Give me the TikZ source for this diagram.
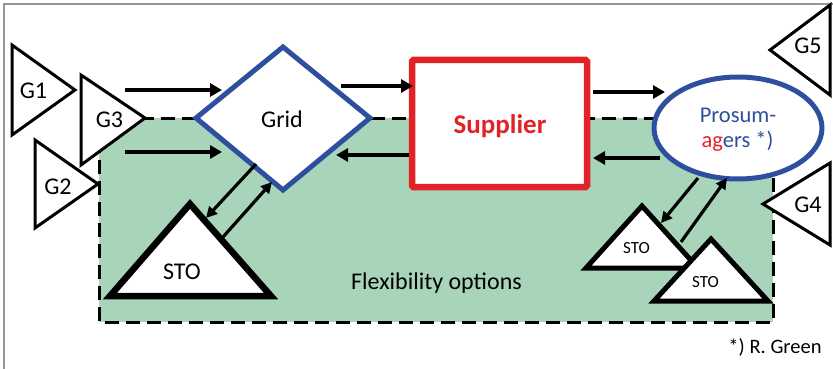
\documentclass[tikz,border=0pt]{standalone}
\usepackage{fontspec}
\setmainfont{Carlito}
\usetikzlibrary{arrows.meta}
\definecolor{gridblue}{RGB}{46,78,158}
\definecolor{supred}{RGB}{227,34,39}
\definecolor{flexgreen}{RGB}{168,213,186}
\definecolor{framegray}{RGB}{150,150,150}
\tikzset{
  gtri/.style={draw=black, fill=white, line width=3pt, line join=miter},
  stobig/.style={draw=black, fill=white, line width=6.5pt, line join=miter},
  stosmall/.style={draw=black, fill=white, line width=5pt, line join=miter},
  flow/.style={line width=4pt, -{Triangle[length=12pt,width=13pt]}},
  diag/.style={line width=3.2pt, -{Triangle[length=11pt,width=11pt]}},
  lbl/.style={anchor=base, inner sep=0pt, font=\fontsize{24}{28}\selectfont},
}
\begin{document}
\begin{tikzpicture}[x=1pt,y=-1pt]
\useasboundingbox (0,0) rectangle (833,369);
\draw[framegray, line width=1.2pt] (4,369) -- (4,4) -- (833,4);

% flexibility area
\fill[flexgreen] (99,118) rectangle (773,322);
\draw[line width=3pt, dash pattern=on 14pt off 7pt] (99,118) rectangle (773,322);

% generators
\draw[gtri] (12,45) -- (75,90) -- (12,135) -- cycle;
\draw[gtri] (81,75) -- (145,118) -- (81,165) -- cycle;
\draw[gtri] (35,140) -- (98,184) -- (35,228) -- cycle;
\draw[gtri] (830,5) -- (770,50) -- (830,95) -- cycle;
\draw[gtri] (830,163) -- (763,204) -- (830,245) -- cycle;
\node[lbl] (g1) at (33.5,99) {G1};
\node[lbl] (g3) at (109.5,127) {G3};
\node[lbl] (g2) at (58,194) {G2};
\node[lbl] (g5) at (808,54) {G5};
\node[lbl] (g4) at (808,212) {G4};

% grid
\draw[gridblue, fill=white, line width=5pt, line join=miter] (283,47) -- (370,118) -- (283,190) -- (196,118) -- cycle;
\node[lbl] (grid) at (282,128) {Grid};

% supplier
\draw[supred, fill=white, line width=6.5pt, rounded corners=1.5pt] (412,60) rectangle (587,187);
\node[lbl, text=supred, font=\fontsize{27}{30}\selectfont\bfseries] (sup) at (500,133) {Supplier};

% prosumagers
\draw[gridblue, fill=white, line width=5pt] (738,128) ellipse [x radius=84, y radius=51];
\node[lbl, text=gridblue, font=\fontsize{22.5}{26}\selectfont] (pro1) at (738,122) {Prosum-};
\node[lbl, text=gridblue, font=\fontsize{22.5}{26}\selectfont] (pro2) at (737.5,147) {\textcolor{supred}{ag}ers *)};

% storages
\draw[stobig] (190,204) -- (271,296) -- (110,296) -- cycle;
\node[lbl] (sto) at (182,279) {STO};
\draw[stosmall] (642,206) -- (698,268) -- (586,268) -- cycle;
\node[lbl, font=\fontsize{17}{20}\selectfont] (stoa) at (636.5,253) {STO};
\draw[stosmall] (711,239) -- (768,301) -- (654,301) -- cycle;
\node[lbl, font=\fontsize{17}{20}\selectfont] (stob) at (705.5,287) {STO};

\node[lbl] (flex) at (436.5,289) {Flexibility options};
\node[lbl, font=\fontsize{20.5}{24}\selectfont] (note) at (775,353) {*) R. Green};

% arrow coordinates
\coordinate (a1s) at (125,90);  \coordinate (a1e) at (222,90);
\coordinate (a2s) at (125,152); \coordinate (a2e) at (222,152);
\coordinate (a3s) at (341,86);  \coordinate (a3e) at (413,86);
\coordinate (a4s) at (409,155); \coordinate (a4e) at (336,155);
\coordinate (a5s) at (593,92);  \coordinate (a5e) at (665,92);
\coordinate (a6s) at (660,158); \coordinate (a6e) at (593,158);
\coordinate (d1s) at (256,164); \coordinate (d1e) at (206,218);
\coordinate (d2s) at (223,237); \coordinate (d2e) at (272,182);
\coordinate (d3s) at (698,178); \coordinate (d3e) at (661,223);
\coordinate (d4s) at (681,242); \coordinate (d4e) at (727,178);

\draw[flow] (a1s) -- (a1e);
\draw[flow] (a2s) -- (a2e);
\draw[flow] (a3s) -- (a3e);
\draw[flow] (a4s) -- (a4e);
\draw[flow] (a5s) -- (a5e);
\draw[flow] (a6s) -- (a6e);
\draw[diag] (d1s) -- (d1e);
\draw[diag] (d2s) -- (d2e);
\draw[diag] (d3s) -- (d3e);
\draw[diag] (d4s) -- (d4e);
\end{tikzpicture}
\end{document}
